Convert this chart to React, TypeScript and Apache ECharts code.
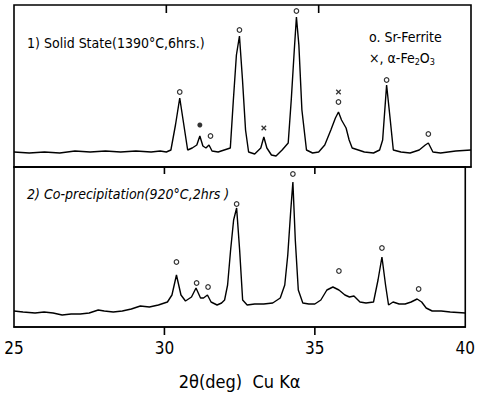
import React, { useEffect, useRef } from "react";
import * as echarts from "echarts";

// 2θ (deg) and relative intensity (arb. units)
const solidState: [number, number][] = [
  [25.0, 15], [25.5, 14], [26.0, 15], [26.5, 14], [27.0, 16], [27.5, 15], [28.0, 16],
  [28.5, 15], [29.0, 16], [29.5, 15], [29.8, 16], [30.0, 15], [30.15, 17], [30.3, 42],
  [30.44, 69], [30.55, 47], [30.7, 17], [30.85, 19], [31.0, 22], [31.1, 31], [31.2, 21],
  [31.3, 19], [31.4, 22], [31.5, 16], [31.7, 15], [31.9, 17], [32.1, 19], [32.2, 67],
  [32.3, 112], [32.4, 131], [32.5, 87], [32.6, 37], [32.7, 15], [32.9, 13], [33.1, 19],
  [33.2, 30], [33.3, 19], [33.45, 12], [33.6, 11], [33.8, 17], [34.0, 24], [34.1, 67],
  [34.2, 117], [34.27, 150], [34.35, 122], [34.45, 57], [34.6, 17], [34.8, 14], [35.0, 15],
  [35.2, 22], [35.4, 37], [35.55, 49], [35.65, 55], [35.75, 47], [35.9, 39], [36.0, 27],
  [36.1, 19], [36.3, 17], [36.5, 15], [36.8, 14], [37.0, 17], [37.1, 27], [37.23, 82],
  [37.35, 47], [37.45, 17], [37.7, 15], [38.0, 14], [38.3, 17], [38.5, 22], [38.6, 24],
  [38.75, 15], [39.0, 14], [39.5, 16], [40.0, 17],
];

const coPrecipitation: [number, number][] = [
  [25.0, 16], [25.3, 15], [25.7, 14], [26.0, 15], [26.3, 14], [26.6, 12], [26.9, 13],
  [27.2, 13], [27.5, 14], [27.8, 17], [28.0, 16], [28.3, 15], [28.6, 16], [28.9, 18],
  [29.2, 21], [29.5, 20], [29.8, 22], [30.1, 25], [30.25, 32], [30.4, 52], [30.55, 32],
  [30.7, 26], [30.9, 30], [31.05, 39], [31.2, 29], [31.3, 29], [31.43, 32], [31.55, 25],
  [31.75, 22], [31.9, 24], [32.0, 27], [32.1, 42], [32.2, 77], [32.3, 107], [32.4, 119],
  [32.5, 77], [32.6, 27], [32.75, 22], [33.0, 23], [33.3, 23], [33.6, 24], [33.85, 29],
  [34.0, 42], [34.1, 72], [34.2, 117], [34.27, 145], [34.35, 87], [34.45, 37], [34.6, 24],
  [34.8, 23], [35.0, 23], [35.2, 27], [35.4, 37], [35.6, 40], [35.8, 37], [36.0, 32],
  [36.15, 30], [36.3, 31], [36.5, 25], [36.7, 24], [36.95, 25], [37.1, 47], [37.23, 70],
  [37.35, 42], [37.45, 22], [37.6, 25], [37.8, 23], [38.0, 23], [38.2, 25], [38.4, 28],
  [38.55, 25], [38.7, 19], [38.9, 16], [39.2, 16], [39.5, 15], [40.0, 14],
];

// peak markers: Sr-ferrite (o), α-Fe2O3 (×), and the filled dot
const solidFerrite: [number, number][] = [
  [30.44, 75], [31.45, 31], [32.4, 137], [34.27, 156], [35.65, 65], [37.23, 87], [38.6, 33],
];
const solidHematite: [number, number][] = [[33.2, 39], [35.65, 75]];
const solidDot: [number, number][] = [[31.1, 42]];
const coFerrite: [number, number][] = [
  [30.4, 65], [31.07, 44], [31.45, 40], [32.4, 123], [34.27, 153], [35.8, 56], [37.23, 79], [38.45, 38],
];

const xTicks = [25, 30, 35, 40];
const panelTitles = ["1) Solid State(1390°C,6hrs.)", "2) Co-precipitation(920°C,2hrs )"];

const FONT = '"DejaVu Sans Condensed", "Liberation Sans Narrow", "DejaVu Sans", sans-serif';
const CROSS = "path://M0,0L10,10M10,0L0,10";

const TOP_MAX = 162;
const BOT_MAX = 160;

export default function App() {
  const ref = useRef<HTMLDivElement>(null);
  useEffect(() => {
    if (!ref.current) return;
    const chart = echarts.init(ref.current, null, { renderer: "svg" });
    const xBase = {
      type: "value" as const,
      min: xTicks[0],
      max: xTicks[xTicks.length - 1],
      interval: 5,
      splitLine: { show: false },
      position: "bottom" as const,
    };
    const axLine = { show: true, onZero: false, lineStyle: { color: "#000", width: 1.6 } };
    const lineStyle = { color: "#000", width: 1.4 };
    const circ = { symbol: "circle", symbolSize: 4.5, itemStyle: { color: "#fff", borderColor: "#000", borderWidth: 1.2 } };
    const gridBase = { left: 14, right: 7, borderColor: "#000", borderWidth: 1.6, backgroundColor: "transparent" };
    const texts = [
      { type: "text", left: 27, top: 36, style: { text: panelTitles[0], fill: "#000", fontSize: 14, fontFamily: FONT } },
      { type: "text", left: 27, top: 187, style: { text: panelTitles[1], fill: "#000", fontSize: 14, fontStyle: "italic", fontFamily: FONT } },
      { type: "text", left: 369, top: 30, style: { text: "o. Sr-Ferrite", fill: "#000", fontSize: 14, fontFamily: FONT } },
      {
        type: "text", left: 369, top: 51,
        style: {
          text: "{a|×, α-Fe}{s|2}{a|O}{s|3}",
          fill: "#000",
          rich: {
            a: { fontSize: 14, fontFamily: FONT, fill: "#000" },
            s: { fontSize: 9, fontFamily: FONT, fill: "#000", verticalAlign: "bottom", padding: [7, 0, 0, 0] },
          },
        },
      },
    ];
    chart.setOption({
      animation: false,
      backgroundColor: "#fff",
      grid: [
        { ...gridBase, top: 5, height: 162, show: true },
        { ...gridBase, top: 167, height: 160, show: true },
      ],
      xAxis: [
        { ...xBase, gridIndex: 0, axisLine: axLine, axisTick: { show: false }, axisLabel: { show: false } },
        {
          ...xBase, gridIndex: 1,
          axisLine: axLine,
          axisTick: { show: false },
          axisLabel: { color: "#000", fontSize: 17, fontFamily: FONT, margin: 12, showMinLabel: true, showMaxLabel: true },
          name: "2θ(deg)  Cu Kα",
          nameLocation: "middle",
          nameGap: 45,
          nameTextStyle: { color: "#000", fontSize: 18, fontFamily: FONT },
        },
      ],
      yAxis: [
        { type: "value", gridIndex: 0, min: 0, max: TOP_MAX, show: false },
        { type: "value", gridIndex: 1, min: 0, max: BOT_MAX, show: false },
      ],
      series: [
        { type: "line", xAxisIndex: 0, yAxisIndex: 0, data: solidState, showSymbol: false, symbol: "none", lineStyle },
        { type: "line", xAxisIndex: 1, yAxisIndex: 1, data: coPrecipitation, showSymbol: false, symbol: "none", lineStyle },
        { type: "scatter", xAxisIndex: 0, yAxisIndex: 0, data: solidFerrite, ...circ },
        { type: "scatter", xAxisIndex: 0, yAxisIndex: 0, data: solidHematite, symbol: CROSS, symbolSize: 4.5, itemStyle: { color: "none", borderColor: "#000", borderWidth: 1.3 } },
        { type: "scatter", xAxisIndex: 0, yAxisIndex: 0, data: solidDot, symbol: "circle", symbolSize: 5, itemStyle: { color: "#000" } },
        { type: "scatter", xAxisIndex: 1, yAxisIndex: 1, data: coFerrite, ...circ },
      ],
      graphic: texts,
    });

    // tick marks at the inner tick values, positioned through the axes' own scales
    const inner = xTicks.slice(1, -1);
    const tickLines: any[] = [];
    inner.forEach((v) => {
      const pTop = chart.convertToPixel({ gridIndex: 0 } as any, [v, TOP_MAX]) as number[];
      const pMid = chart.convertToPixel({ gridIndex: 1 } as any, [v, BOT_MAX]) as number[];
      const pBot = chart.convertToPixel({ gridIndex: 1 } as any, [v, 0]) as number[];
      if (!pTop || !pMid || !pBot) return;
      const mk = (x: number, y0: number, y1: number) => ({
        type: "line", silent: true, z: 100,
        shape: { x1: x, y1: y0, x2: x, y2: y1 },
        style: { stroke: "#000", lineWidth: 1.6 },
      });
      tickLines.push(mk(pTop[0], pTop[1], pTop[1] + 8));
      tickLines.push(mk(pMid[0], pMid[1], pMid[1] + 7));
      tickLines.push(mk(pBot[0], pBot[1], pBot[1] + 8));
    });
    chart.setOption({ graphic: [...texts, ...tickLines] });

    return () => chart.dispose();
  }, []);
  return <div ref={ref} style={{ position: "absolute", left: 0, top: 0, width: 478, height: 400, background: "#fff" }} />;
}
